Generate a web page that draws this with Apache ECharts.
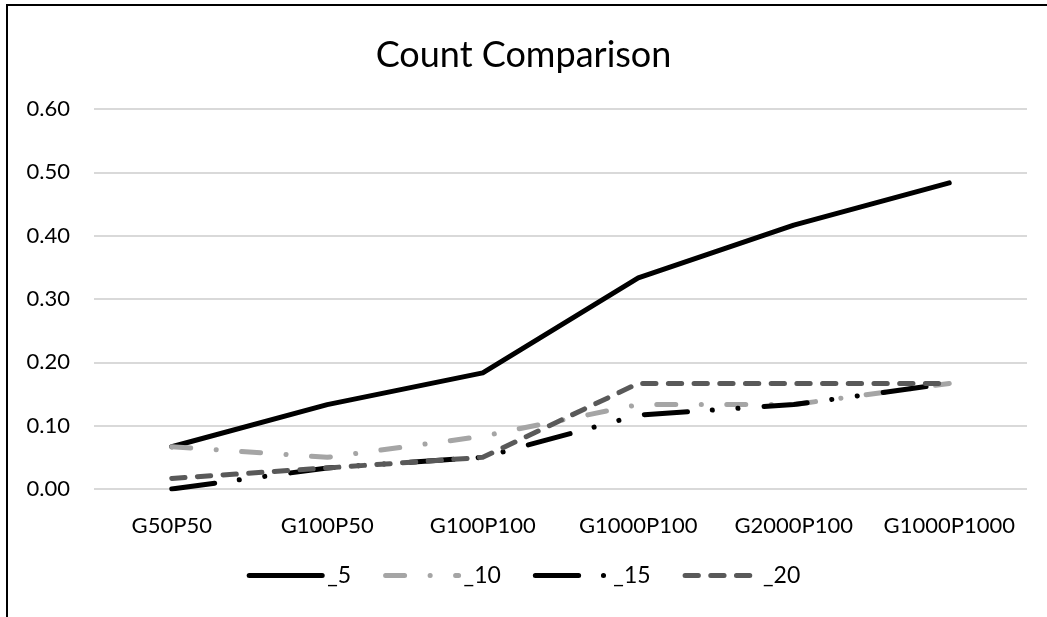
<!DOCTYPE html>
<html>
<head>
<meta charset="utf-8">
<title>Count Comparison</title>
<script src="https://cdn.jsdelivr.net/npm/echarts@6/dist/echarts.min.js"></script>
<style>
    html, body { margin: 0; padding: 0; background: #fff; }
    #main { width: 1047px; height: 617px; }
</style>
</head>
<body>
<div id="main"></div>
<script>
// categories (x axis)
var categories = ['G50P50', 'G100P50', 'G100P100', 'G1000P100', 'G2000P100', 'G1000P1000'];

// series values
var s5  = [0.0667, 0.1333, 0.1833, 0.3333, 0.4167, 0.4833];
var s10 = [0.0667, 0.0500, 0.0833, 0.1333, 0.1333, 0.1667];
var s15 = [0.0000, 0.0333, 0.0500, 0.1167, 0.1333, 0.1667];
var s20 = [0.0167, 0.0333, 0.0500, 0.1667, 0.1667, 0.1667];

var seriesNames = ['_5', '_10', '_15', '_20'];

var labelFont = 'Lato';

var myChart = echarts.init(document.getElementById('main'));

function lineSeries(name, data, color, dash) {
    return {
        name: name,
        type: 'line',
        data: data,
        symbol: 'none',
        smooth: false,
        lineStyle: {
            color: color,
            width: 5,
            type: dash,
            cap: 'round',
            join: 'round'
        },
        itemStyle: { color: color },
        emphasis: { disabled: true }
    };
}

var option = {
    animation: false,
    backgroundColor: '#fff',
    title: {
        text: 'Count Comparison',
        left: 'center',
        top: 32,
        textStyle: {
            fontFamily: labelFont,
            fontSize: 36,
            fontWeight: 'normal',
            color: '#000'
        }
    },
    //外框
    graphic: [{
        type: 'rect',
        shape: { x: 7, y: 5, width: 1200, height: 800 },
        style: { fill: 'none', stroke: '#000', lineWidth: 2 },
        silent: true
    }],
    legend: {
        data: seriesNames,
        bottom: 25,
        left: 'center',
        itemWidth: 73,
        itemHeight: 14,
        itemGap: 32,
        itemStyle: { opacity: 0 },
        lineStyle: { width: 5, cap: 'round' },
        textStyle: {
            fontFamily: labelFont,
            fontSize: 23,
            color: '#000'
        }
    },
    grid: {
        left: 94,
        right: 20,
        top: 109,
        bottom: 128
    },
    xAxis: {
        type: 'category',
        data: categories,
        boundaryGap: true,
        axisLine: { show: false },
        axisTick: { show: false },
        axisLabel: {
            interval: 0,
            fontFamily: labelFont,
            fontSize: 22,
            color: '#000',
            margin: 26
        }
    },
    yAxis: {
        type: 'value',
        min: 0,
        max: 0.6,
        interval: 0.1,
        axisLine: { show: false },
        axisTick: { show: false },
        splitLine: { lineStyle: { color: '#d9d9d9', width: 2 } },
        axisLabel: {
            fontFamily: labelFont,
            fontSize: 22,
            color: '#000',
            margin: 24,
            formatter: function (value) {
                return value.toFixed(2);
            }
        }
    },
    series: [
        lineSeries('_5', s5, '#000000', 'solid'),
        lineSeries('_10', s10, '#a5a5a5', [19, 25.5, 0.1, 25.4]),
        lineSeries('_15', s15, '#000000', [43.3, 24.8, 0.1, 25.6, 0.1, 26.1]),
        lineSeries('_20', s20, '#595959', [13.3, 12.4])
    ]
};

myChart.setOption(option);
</script>
</body>
</html>
